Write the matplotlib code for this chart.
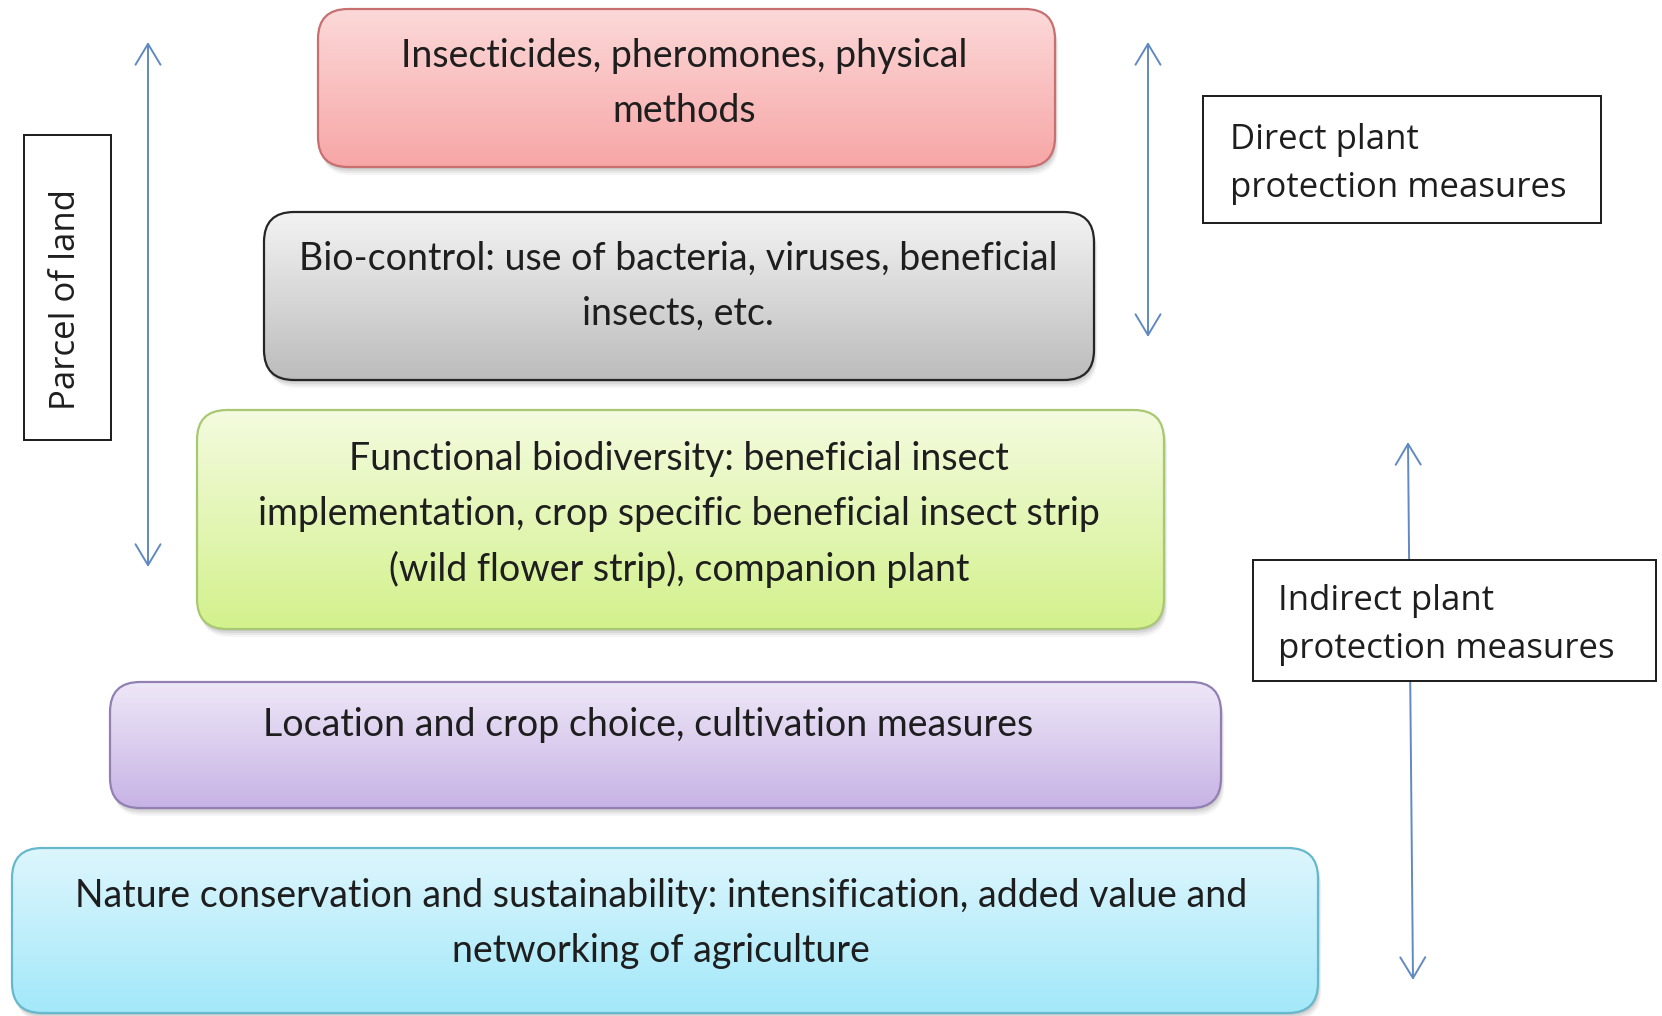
#!/usr/bin/env python3
"""
Layered plant protection diagram: stacked rounded boxes with gradient fills,
side labels and arrows.
"""
import numpy as np
import matplotlib
matplotlib.use("Agg")
import matplotlib.pyplot as plt
from matplotlib.patches import FancyBboxPatch, Rectangle
from matplotlib.colors import to_rgb

# layer texts, top to bottom
layer_lines = [
    ["Insecticides, pheromones, physical", "methods"],
    ["Bio-control: use of bacteria, viruses, beneficial", "insects, etc."],
    ["Functional biodiversity: beneficial insect",
     "implementation, crop specific beneficial insect strip",
     "(wild flower strip), companion plant"],
    ["Location and crop choice, cultivation measures"],
    ["Nature conservation and sustainability: intensification, added value and",
     "networking of agriculture"],
]
side_labels = ["Parcel of land",
               "Direct plant\nprotection measures",
               "Indirect plant\nprotection measures"]

# colours: top of gradient, bottom of gradient, edge
layer_top = ["#fcd9d9", "#f3f3f3", "#f4fbdf", "#eee7f7", "#ddf6fd"]
layer_bottom = ["#f7a6a6", "#bcbcbc", "#d3f18c", "#c7b3e5", "#a3e8f9"]
layer_edge = ["#c87070", "#262626", "#a9c873", "#9280b4", "#66b8cc"]

# box geometry in pixels: x0, y0, x1, y1 (y grows downwards)
layer_box = [(318, 9, 1055, 167), (264, 212, 1094, 380), (197, 410, 1164, 629),
             (110, 682, 1221, 808), (12, 848, 1318, 1013)]
layer_text_x = [684, 678, 679, 648, 661]
layer_text_y = [56, 259, 459, 725, 896]
LINE_STEP = 55

W, H = 1662, 1016
fig = plt.figure(figsize=(W / 100, H / 100), dpi=100)
ax = fig.add_axes([0, 0, 1, 1])
ax.set_xlim(0, W)
ax.set_ylim(H, 0)
ax.axis("off")

box_font = ["Lato", "DejaVu Sans"]
label_font = ["Open Sans", "DejaVu Sans"]
text_col = "#1e1e1e"
arrow_col = "#6189c2"

for i, lines in enumerate(layer_lines):
    x0, y0, x1, y1 = layer_box[i]
    w, h = x1 - x0, y1 - y0
    style = "round,pad=0,rounding_size=30"
    # soft shadow
    for off, a in [(8, 0.05), (6, 0.07), (4, 0.09), (2, 0.10)]:
        sh = FancyBboxPatch((x0 + off * 0.4, y0 + off), w, h, boxstyle=style,
                            fc="#404040", ec="none", alpha=a, zorder=1)
        ax.add_patch(sh)
    patch = FancyBboxPatch((x0, y0), w, h, boxstyle=style, fc="none",
                           ec=layer_edge[i], lw=1.6, zorder=3)
    ax.add_patch(patch)
    c0 = np.array(to_rgb(layer_top[i]))
    c1 = np.array(to_rgb(layer_bottom[i]))
    t = np.linspace(0, 1, 256)[:, None, None]
    grad = c0 + (c1 - c0) * t
    im = ax.imshow(grad, extent=(x0, x1, y1, y0), aspect="auto",
                   interpolation="bilinear", zorder=2)
    im.set_clip_path(patch)
    for j, line in enumerate(lines):
        ax.text(layer_text_x[i], layer_text_y[i] + j * LINE_STEP, line,
                ha="center", va="center", fontsize=27, family=box_font,
                color=text_col, zorder=4)

# side label boxes
ax.add_patch(Rectangle((24, 135), 87, 305, fc="white", ec="#1a1a1a", lw=1.4, zorder=3))
ax.text(66, 300, side_labels[0], rotation=90, ha="center", va="center",
        fontsize=25, family=label_font, color=text_col, zorder=4)

ax.add_patch(Rectangle((1203, 96), 398, 127, fc="white", ec="#1a1a1a", lw=1.4, zorder=3))
ax.text(1230, 164, side_labels[1], ha="left", va="center", linespacing=1.55,
        fontsize=25, family=label_font, color=text_col, zorder=4)

ax.add_patch(Rectangle((1253, 560), 403, 121, fc="white", ec="#1a1a1a", lw=1.4, zorder=3))
ax.text(1278, 625, side_labels[2], ha="left", va="center", linespacing=1.5,
        fontsize=25, family=label_font, color=text_col, zorder=4)

# arrows
arrow_style = dict(arrowstyle="<->,head_length=1.5,head_width=0.9",
                   color=arrow_col, lw=1.4, shrinkA=0, shrinkB=0)
ax.annotate("", xy=(148, 42), xytext=(148, 567), arrowprops=arrow_style, zorder=2)
ax.annotate("", xy=(1148, 42), xytext=(1148, 337), arrowprops=arrow_style, zorder=2)
ax.annotate("", xy=(1408, 442), xytext=(1413, 980), arrowprops=arrow_style, zorder=2)

fig.savefig("out.png", dpi=100, facecolor="white")
